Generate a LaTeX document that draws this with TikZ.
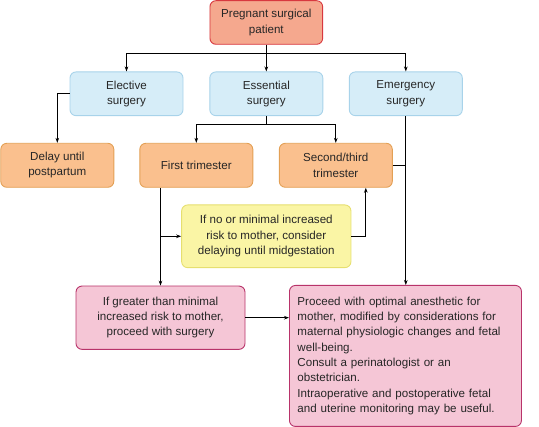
\documentclass[tikz,border=0pt]{standalone}
\usepackage{fontspec}
\setmainfont{Liberation Sans}
\usetikzlibrary{arrows.meta}
\definecolor{salmonfill}{HTML}{F5A88E}
\definecolor{salmonline}{HTML}{D8383F}
\definecolor{bluefill}{HTML}{D6EDF8}
\definecolor{blueline}{HTML}{A8D3EA}
\definecolor{orangefill}{HTML}{FAC08E}
\definecolor{orangeline}{HTML}{E3A055}
\definecolor{yellowfill}{HTML}{FAF5A5}
\definecolor{yellowline}{HTML}{E6DF6F}
\definecolor{pinkfill}{HTML}{F5C6D6}
\definecolor{pinkline}{HTML}{B8336A}
\tikzset{
  box/.style={rounded corners=6pt, line width=0.9pt, align=center,
    inner sep=2pt, text=black!85,
    font=\fontsize{11.6}{15.3}\selectfont},
  root/.style={box, fill=salmonfill, draw=salmonline, minimum width=112.7pt, minimum height=43.6pt},
  kind/.style={box, fill=bluefill, draw=blueline, minimum width=113pt, minimum height=43.7pt},
  term/.style={box, fill=orangefill, draw=orangeline, minimum width=113pt, minimum height=44pt},
  advice/.style={box, fill=yellowfill, draw=yellowline, minimum width=169.3pt, minimum height=62.7pt},
  act/.style={box, fill=pinkfill, draw=pinkline},
  arr/.style={-{Stealth[length=5pt,width=3.6pt]}, line width=1pt},
  ln/.style={line width=1pt}
}

\begin{document}
\begin{tikzpicture}[x=1pt,y=-1pt]
\useasboundingbox (0,0) rectangle (539,427);
% top and surgery type
\node[root] (preg) at (266.3,22.5) {Pregnant surgical\\patient};
\node[kind] (elec) at (126.5,93.8) {Elective\\surgery};
\node[kind] (ess) at (266.3,93.8) {Essential\\surgery};
\node[kind] (emer) at (405.8,93.8) {Emergency\\surgery};
% timing
\node[term] (delay) at (57.3,165.3) {Delay until\\postpartum};
\node[term] (first) at (196.3,165.3) {First trimester};
\node[term] (second) at (335.8,165.3) {Second/third\\trimester};
\node[advice] (mid) at (266.3,236.3) {If no or minimal increased\\risk to mother, consider\\delaying until midgestation};
% actions
\node[act, minimum width=169pt, minimum height=63.3pt] (lpink) at (160.5,317.7)
  {If greater than minimal\\increased risk to mother,\\proceed with surgery};
\node[act, anchor=north west, minimum width=232pt, minimum height=141pt,
  text width=216pt, align=left, inner xsep=8pt] (rpink) at (289,285)
  {Proceed with optimal anesthetic for\\mother, modified by considerations for\\maternal physiologic changes and fetal\\well-being.\\Consult a perinatologist or an\\obstetrician.\\Intraoperative and postoperative fetal\\and uterine monitoring may be useful.};
% connectors
\coordinate (split) at (266.3,54);
\draw[ln] (preg) -- (split);
\draw[arr] (split) -| (elec.north);
\draw[arr] (split) -- (ess.north);
\draw[arr] (split) -| (emer.north);
\draw[arr] (elec.west) -| (delay.north);
\coordinate (esplit) at (266.3,124.3);
\draw[ln] (ess) -- (esplit);
\draw[arr] (esplit) -| (first.north);
\draw[arr] (esplit) -| (second.north);
\draw[arr] (emer.south) -- (emer.south |- rpink.north);
\draw[ln] (second.east) -- (second.east -| emer.south);
\draw[arr] (first.south -| lpink.north) -- (lpink.north);
\draw[arr] (mid.west -| lpink.north) -- (mid.west);
\draw[arr] (mid.east) -| ([xshift=30pt]second.south);
\draw[arr] (lpink.east) -- (lpink.east -| rpink.west);
\end{tikzpicture}
\end{document}
